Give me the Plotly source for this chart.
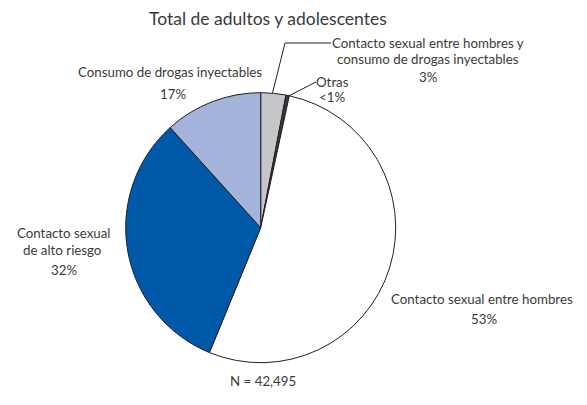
import plotly.graph_objects as go

W, H = 587, 405
OFF = 8  # page body margin

categories = [
    "Contacto sexual entre hombres y consumo de drogas inyectables",
    "Otras",
    "Contacto sexual entre hombres",
    "Contacto sexual de alto riesgo",
    "Consumo de drogas inyectables",
]
values = [3.0, 0.4, 52.8, 32.1, 11.7]
pct_labels = ["3%", "<1%", "53%", "32%", "17%"]
label_lines = [
    ["Contacto sexual entre hombres y", "consumo de drogas inyectables"],
    ["Otras"],
    ["Contacto sexual entre hombres"],
    ["Contacto sexual", "de alto riesgo"],
    ["Consumo de drogas inyectables"],
]
colors = ["#c4c6c9", "#3a3a3a", "#ffffff", "#0058a8", "#a3b3da"]
title_text = "Total de adultos y adolescentes"
n_text = "N = 42,495"

FONT = "Lato"
TXT = "#3a3a3a"

cx, cy, r = 260.7, 227.7, 135

def px(x, y):
    return (x - OFF) / W, 1 - (y - OFF) / H

d0 = px(cx - r, cy + r)
d1 = px(cx + r, cy - r)

fig = go.Figure(go.Pie(
    labels=categories,
    values=values,
    sort=False,
    direction="clockwise",
    rotation=0,
    marker=dict(colors=colors, line=dict(color="#231f20", width=1)),
    textinfo="none",
    hoverinfo="label+percent",
    showlegend=False,
    domain=dict(x=[d0[0], d1[0]], y=[d0[1], d1[1]]),
))

annotations = []

def add_text(x, y, text, size=13.3, anchor="center"):
    ax, ay = px(x, y)
    annotations.append(dict(x=ax, y=ay, xref="paper", yref="paper", text=text,
                            showarrow=False, xanchor=anchor, yanchor="middle",
                            font=dict(family=FONT, size=size, color=TXT)))

# title
add_text(268, 18, title_text, size=17.5)
# gray slice label
add_text(428, 43, label_lines[0][0])
add_text(428, 59, label_lines[0][1])
add_text(428, 77, pct_labels[0])
# otras
add_text(332, 82, label_lines[1][0])
add_text(332, 97, pct_labels[1])
# light blue
add_text(170, 72, label_lines[4][0])
add_text(173, 94, pct_labels[4])
# dark blue
add_text(64, 233, label_lines[3][0])
add_text(62, 250, label_lines[3][1])
add_text(64, 270, pct_labels[3])
# white
add_text(482, 299, label_lines[2][0])
add_text(484, 319, pct_labels[2])
# N
add_text(263, 381, n_text)

shapes = []
def line(x0, y0, x1, y1):
    a0, b0 = px(x0, y0)
    a1, b1 = px(x1, y1)
    shapes.append(dict(type="line", xref="paper", yref="paper", x0=a0, y0=b0, x1=a1, y1=b1,
                       line=dict(color="#231f20", width=1)))

line(272.5, 93, 285, 43)
line(285, 43, 331, 43)
line(288.5, 96, 316, 82)

fig.update_layout(
    width=W, height=H,
    margin=dict(l=0, r=0, t=0, b=0),
    paper_bgcolor="white", plot_bgcolor="white",
    annotations=annotations, shapes=shapes,
)

fig.write_html("out.html")
